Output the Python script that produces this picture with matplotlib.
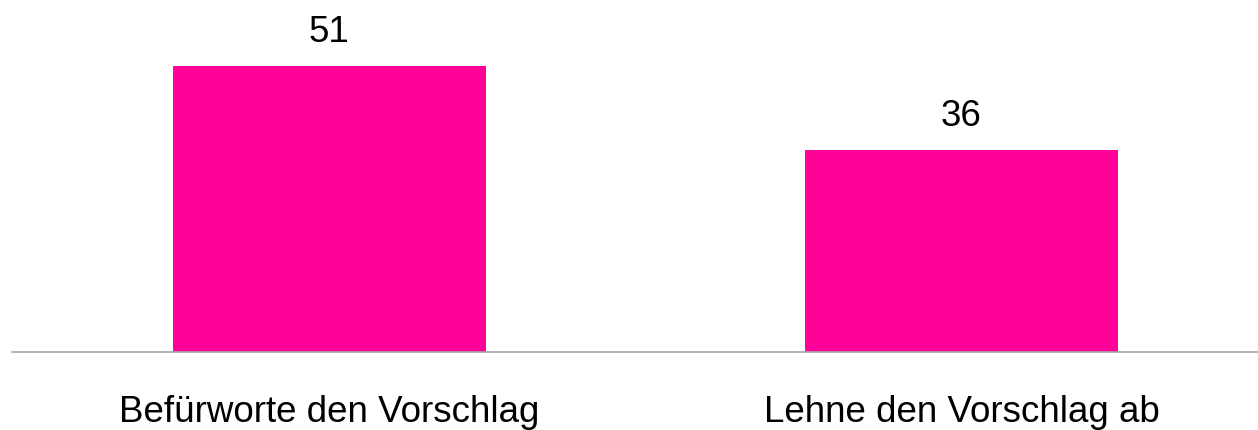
import matplotlib.pyplot as plt

# data
categories = ["Befürworte den Vorschlag", "Lehne den Vorschlag ab"]
values = [51, 36]

plt.rcParams['font.family'] = ['Liberation Sans', 'DejaVu Sans']

fig = plt.figure(figsize=(12.58, 4.30), dpi=100)
ax = fig.add_axes([12 / 1258, 1 - 352 / 430, 1246 / 1258, 352 / 430])

x = range(len(categories))
bars = ax.bar(x, values, width=0.495, color='#FF0399')

# value labels above bars
for b, v in zip(bars, values):
    ax.text(b.get_x() + b.get_width() / 2, v + 4.25, str(v),
            ha='center', va='baseline', fontsize=26.5, color='#000000')

ax.set_xlim(-0.502, 1.469)
ax.set_ylim(0, 62.7)

ax.set_xticks(list(x))
ax.set_xticklabels(categories, fontsize=26.5)
ax.tick_params(axis='x', length=0, pad=50.4)
for t in ax.get_xticklabels():
    t.set_va('baseline')
ax.set_yticks([])

for s in ['top', 'right', 'left']:
    ax.spines[s].set_visible(False)
ax.spines['bottom'].set_color('#A6A6A6')
ax.spines['bottom'].set_linewidth(1.2)

fig.savefig("out.png", dpi=100)
